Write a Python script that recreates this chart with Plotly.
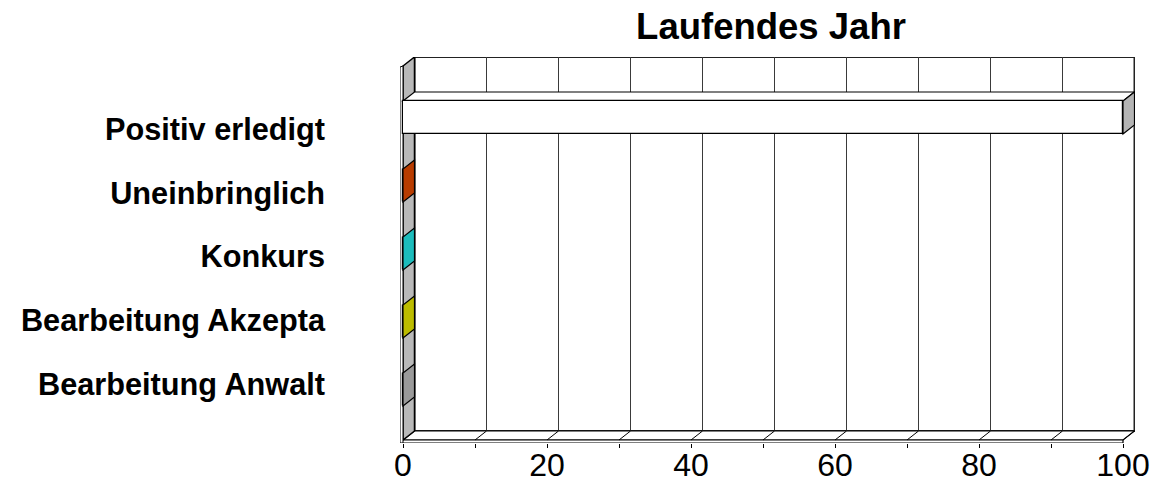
import plotly.graph_objects as go

# ---- data ----
categories = ["Positiv erledigt", "Uneinbringlich", "Konkurs",
              "Bearbeitung Akzepta", "Bearbeitung Anwalt"]
values = [100, 0, 0, 0, 0]
tick_values = [0, 10, 20, 30, 40, 50, 60, 70, 80, 90, 100]
tick_labels = ["0", "", "20", "", "40", "", "60", "", "80", "", "100"]
title_text = "Laufendes Jahr"

# ---- styles ----
front_colors = ["#ffffff", "#b83c00", "#1cbcbc", "#bcbc00", "#9a9a9a"]
end_colors = ["#b4b4b4", "#b83c00", "#1cbcbc", "#bcbc00", "#9a9a9a"]
wall_color = "#b9b9b9"
grid_color = "#3a3a3a"

W, H = 1154, 483
ML, MR, MT, MB = 400, 19, 57, 40
PX = 7.2      # pixels per x unit
PY = 68.0     # pixels per category
XMAX = 100
DX = 11.5 / PX           # depth offset in x units
DY = 9.0 / PY            # depth offset in category units (upwards)
HALF = 16.5 / PY         # half bar thickness
CAT0 = 117.5             # pixel of first category (front)

x0 = -3.0 / PX
x1 = x0 + (W - ML - MR) / PX
y_bottom = (H - MB - CAT0) / PY
y_top = (MT - CAT0) / PY
Y_FRONT_TOP = (66 - CAT0) / PY
Y_FLOOR = (440 - CAT0) / PY
Y_SLAB = (443 - CAT0) / PY

shapes = []
def poly(pts, fill, lw=1, lc="black"):
    d = "M " + " L ".join(f"{px},{py}" for px, py in pts) + " Z"
    shapes.append(dict(type="path", path=d, xref="x", yref="y",
                       fillcolor=fill, line=dict(color=lc, width=lw), layer="below"))
def seg(xa, ya, xb, yb, lc="black", lw=1):
    shapes.append(dict(type="line", x0=xa, y0=ya, x1=xb, y1=yb, xref="x", yref="y",
                       line=dict(color=lc, width=lw), layer="below"))

# back wall
poly([(DX, Y_FRONT_TOP - DY), (XMAX + DX, Y_FRONT_TOP - DY),
      (XMAX + DX, Y_FLOOR - DY), (DX, Y_FLOOR - DY)], "white", 2, "#222")
# gridlines on back wall
for v in tick_values[1:-1]:
    seg(v + DX, Y_FRONT_TOP - DY, v + DX, Y_FLOOR - DY, grid_color, 1)
# floor top surface
poly([(0, Y_FLOOR), (XMAX, Y_FLOOR), (XMAX + DX, Y_FLOOR - DY), (DX, Y_FLOOR - DY)], "white", 1.2)
# floor slab front
poly([(x0, Y_FLOOR), (XMAX, Y_FLOOR), (XMAX, Y_SLAB), (x0, Y_SLAB)], "white", 1.2)
# floor diagonals
for v in tick_values[1:]:
    seg(v, Y_FLOOR, v + DX, Y_FLOOR - DY, "black", 1)
# left wall
poly([(0, Y_FRONT_TOP), (DX, Y_FRONT_TOP - DY), (DX, Y_FLOOR - DY), (0, Y_FLOOR)], wall_color, 1.5)
# left wall slab front
poly([(x0, Y_FRONT_TOP + 1 / PY), (0, Y_FRONT_TOP), (0, Y_SLAB), (x0, Y_SLAB)], "white", 1)

# bar top and end faces
for i, v in enumerate(values):
    top = i - HALF
    bot = i + HALF
    if v > 0:
        poly([(0, top), (v, top), (v + DX, top - DY), (DX, top - DY)], "white", 1.2)
    poly([(v, top), (v, bot), (v + DX, bot - DY), (v + DX, top - DY)], end_colors[i], 1.2)

fig = go.Figure()
fig.add_trace(go.Bar(
    x=values, y=list(range(len(categories))), orientation="h",
    width=2 * HALF, marker=dict(color=front_colors, line=dict(color="black", width=1.2)),
    hoverinfo="skip", showlegend=False))
fig.add_trace(go.Scatter(
    x=[0] * len(categories), y=list(range(len(categories))), yaxis="y2",
    mode="markers", marker=dict(opacity=0), hoverinfo="skip", showlegend=False))

LAB0, LABSTEP = 129.0, 63.75
fig.update_layout(
    width=W, height=H,
    margin=dict(l=ML, r=MR, t=MT, b=MB, autoexpand=False),
    paper_bgcolor="white", plot_bgcolor="white",
    bargap=0,
    shapes=shapes,
    title=dict(text=title_text, x=771 / W, xref="container", xanchor="center",
               y=(H - 26) / H, yref="container", yanchor="middle", automargin=False,
               font=dict(family="Liberation Sans", size=36.5, color="black", weight="bold")),
    xaxis=dict(range=[x0, x1], tickvals=tick_values, ticktext=tick_labels,
               ticks="outside", ticklen=4, tickcolor="black", tickwidth=1,
               ticklabelstandoff=-10,
               showgrid=False, zeroline=False, showline=False, automargin=False,
               tickfont=dict(family="Liberation Sans", size=32, color="black")),
    yaxis=dict(range=[y_bottom, y_top], showticklabels=False, showgrid=False,
               zeroline=False, showline=False, ticks="", automargin=False),
    yaxis2=dict(overlaying="y", side="left",
                range=[(H - MB - LAB0) / LABSTEP, (MT - LAB0) / LABSTEP],
                tickvals=list(range(len(categories))), ticktext=categories,
                ticks="", showgrid=False, zeroline=False, showline=False,
                ticklabelstandoff=74, automargin=False,
                tickfont=dict(family="Liberation Sans", size=30.7, color="black", weight="bold")),
)

fig.write_html("out.html", config={"displayModeBar": False},
               post_script="document.body.style.margin='0';")
